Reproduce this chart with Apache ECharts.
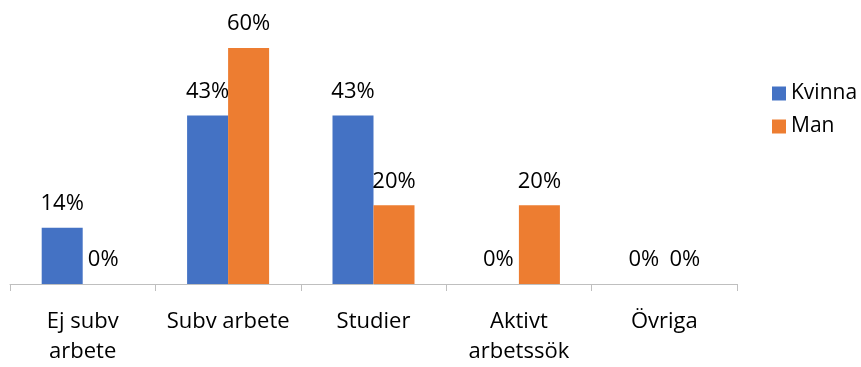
<!DOCTYPE html>
<html>
<head>
<meta charset="utf-8">
<script src="https://cdn.jsdelivr.net/npm/echarts@6/dist/echarts.min.js"></script>
<style>
  html, body { margin: 0; padding: 0; background: #fff; }
  #main { width: 861px; height: 367px; }
</style>
</head>
<body>
<div id="main"></div>
<script>
// kategorier och andelar (%)
var categories = ['Ej subv\narbete', 'Subv arbete', 'Studier', 'Aktivt\narbetssök', 'Övriga'];
var kvinna = [14.29, 42.86, 42.86, 0, 0];
var man = [0, 60, 20, 20, 0];

var font = '"Open Sans", sans-serif';
var chart = echarts.init(document.getElementById('main'));

var labelOpt = {
  show: true,
  position: 'top',
  distance: 13,
  fontSize: 22,
  fontFamily: font,
  color: '#000',
  formatter: function (p) { return Math.round(p.value) + '%'; }
};

chart.setOption({
  animation: false,
  grid: { left: 10, right: 124, top: 48, bottom: 79 },
  legend: {
    orient: 'vertical',
    left: 767,
    top: 78,
    itemWidth: 14,
    itemHeight: 14,
    itemGap: 12,
    icon: 'rect',
    textStyle: { fontSize: 21, fontFamily: font, color: '#000' },
    data: ['Kvinna', 'Man']
  },
  xAxis: {
    type: 'category',
    data: categories,
    axisLine: { lineStyle: { color: '#bfbfbf', width: 1 } },
    axisTick: { show: true, length: 7, lineStyle: { color: '#bfbfbf' } },
    axisLabel: {
      interval: 0,
      margin: 23,
      fontSize: 22,
      lineHeight: 30,
      fontFamily: font,
      color: '#000'
    }
  },
  yAxis: {
    type: 'value',
    min: 0,
    max: 60,
    show: false
  },
  series: [
    {
      name: 'Kvinna',
      type: 'bar',
      data: kvinna,
      barGap: '0%',
      barCategoryGap: '43.6%',
      itemStyle: { color: '#4472C4' },
      label: labelOpt
    },
    {
      name: 'Man',
      type: 'bar',
      data: man,
      itemStyle: { color: '#ED7D31' },
      label: labelOpt
    }
  ]
});
</script>
</body>
</html>
